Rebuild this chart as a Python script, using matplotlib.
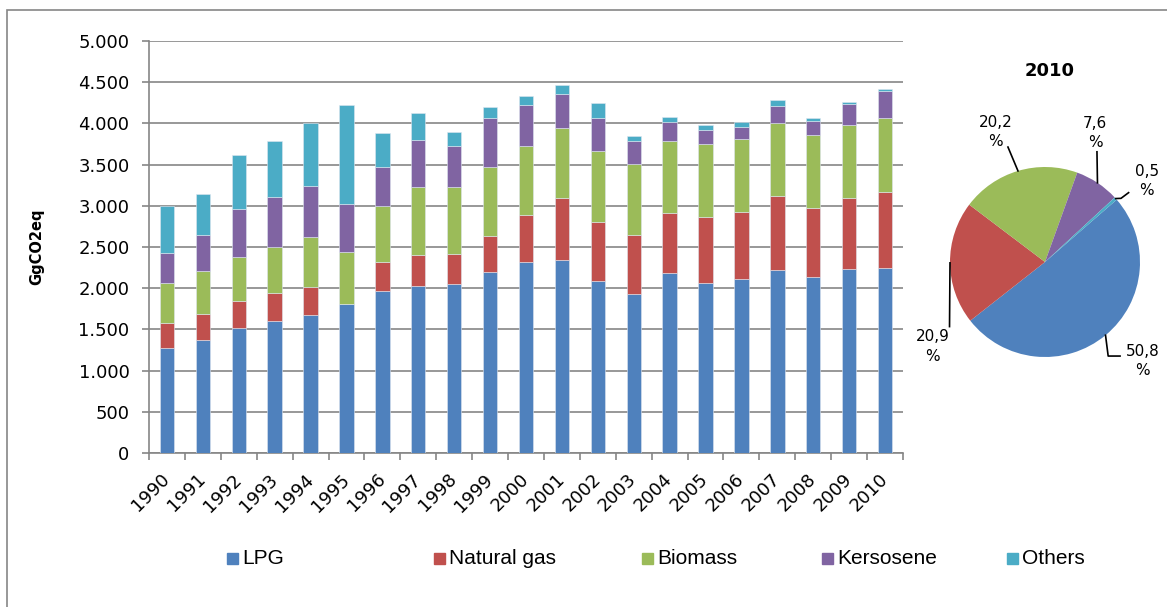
import numpy as np
import matplotlib.pyplot as plt
from matplotlib.patches import Rectangle

# Data (GgCO2eq)
years = [str(y) for y in range(1990, 2011)]
lpg = [1278, 1371, 1513, 1602, 1675, 1805, 1962, 2031, 2055, 2197, 2314,
       2346, 2087, 1933, 2188, 2059, 2112, 2217, 2140, 2229, 2245]
natural_gas = [303, 320, 336, 344, 343, 0, 360, 376, 360, 440, 571,
               745, 720, 716, 728, 809, 817, 906, 837, 870, 924]
biomass = [486, 514, 534, 554, 600, 631, 676, 817, 813, 830, 841,
           853, 858, 858, 870, 878, 882, 882, 886, 886, 893]
kerosene = [357, 437, 574, 611, 626, 582, 469, 575, 502, 603, 494,
            417, 405, 276, 231, 178, 142, 206, 163, 247, 336]
others = [576, 501, 663, 679, 761, 1202, 416, 323, 170, 125, 113,
          105, 178, 68, 57, 53, 68, 69, 40, 32, 22]

names = ['LPG', 'Natural gas', 'Biomass', 'Kersosene', 'Others']
colors = ['#4F81BD', '#C0504D', '#9BBB59', '#8064A2', '#4BACC6']
series = [lpg, natural_gas, biomass, kerosene, others]

W, H = 1167, 607
fig = plt.figure(figsize=(W / 100, H / 100), dpi=100)
grey = '#868686'

# outer frame
fig.add_artist(Rectangle((7 / W, -0.1), 1.2, 1.1 - 10 / H, transform=fig.transFigure,
                         fill=False, edgecolor=grey, linewidth=1.2))

# stacked bars
ax = fig.add_axes([149 / W, 1 - 453 / H, (903 - 149) / W, (453 - 41) / H])
x = np.arange(len(years))
bottom = np.zeros(len(years))
for vals, name, c in zip(series, names, colors):
    ax.bar(x, vals, 0.4, bottom=bottom, color=c, label=name,
           edgecolor='#dfe6f0', linewidth=0.4, zorder=3)
    bottom += np.array(vals)

ax.set_xlim(-0.5, len(years) - 0.5)
ax.set_ylim(0, 5000)
ax.set_yticks(np.arange(0, 5001, 500))
ax.set_yticklabels(['{:,}'.format(v).replace(',', '.') for v in range(0, 5001, 500)])
ax.yaxis.grid(True, color=grey, linewidth=1.2, zorder=0)
ax.set_xticks(x)
ax.set_xticklabels(years, rotation=45, ha='right', va='center', rotation_mode='anchor')
ax.set_xticks(np.arange(-0.5, len(years)), minor=True)
ax.tick_params(axis='x', which='major', length=0, pad=17, labelsize=13)
ax.tick_params(axis='x', which='minor', length=5, width=1.2, color=grey)
ax.tick_params(axis='y', length=5, width=1.2, color=grey, pad=9, labelsize=13)
for s in ['top', 'right']:
    ax.spines[s].set_visible(False)
for s in ['left', 'bottom']:
    ax.spines[s].set_color(grey)
    ax.spines[s].set_linewidth(1.2)

fig.text(37 / W, 1 - 247 / H, 'GgCO2eq', rotation=90, ha='center', va='center',
         fontsize=10.5, fontweight='bold')

# legend entries
leg_x = [227, 434, 642, 822, 1007]
for lx, name, c in zip(leg_x, names, colors):
    fig.add_artist(Rectangle((lx / W, 1 - 564 / H), 11 / W, 11 / H,
                             transform=fig.transFigure, color=c))
    fig.text((lx + 15) / W, 1 - 558 / H, name, ha='left', va='center',
             fontsize=15, family='Liberation Sans')

# pie for 2010
pie_vals = [s[-1] for s in series]
r_px = 95
cx, cy = 1045, 262
pax = fig.add_axes([(cx - r_px) / W, 1 - (cy + r_px) / H, 2 * r_px / W, 2 * r_px / H])
wedges, _ = pax.pie(pie_vals, colors=colors, startangle=41, counterclock=False,
                    radius=1.0, wedgeprops=dict(linewidth=0))
pax.set_xlim(-1, 1)
pax.set_ylim(-1, 1)
pax.axis('off')
fig.text(1050 / W, 1 - 71 / H, '2010', ha='center', va='center',
         fontsize=13, fontweight='bold')

pcts = 100 * np.array(pie_vals) / sum(pie_vals)
# label centre and leader end, in pie radius units
label_pos = [(1.03, -1.04), (-1.18, -0.89), (-0.52, 1.37), (0.53, 1.36), (1.07, 0.85)]
leader_pts = [[(0.665, -0.99), (0.79, -0.99)], [(-1.005, -0.68)], [(-0.39, 1.21)],
              [(0.547, 1.16)], [(0.80, 0.67), (0.88, 0.73)]]
for w, p, lp, pts in zip(wedges, pcts, label_pos, leader_pts):
    mid = np.deg2rad((w.theta1 + w.theta2) / 2)
    xs = [np.cos(mid)] + [q[0] for q in pts]
    ys = [np.sin(mid)] + [q[1] for q in pts]
    pax.plot(xs, ys, color='black', linewidth=1.2, clip_on=False)
    pax.text(lp[0], lp[1], '{:.1f}'.format(p).replace('.', ',') + '\n%',
             ha='center', va='center', fontsize=11, linespacing=1.35, clip_on=False)

fig.savefig('out.png', dpi=100)
